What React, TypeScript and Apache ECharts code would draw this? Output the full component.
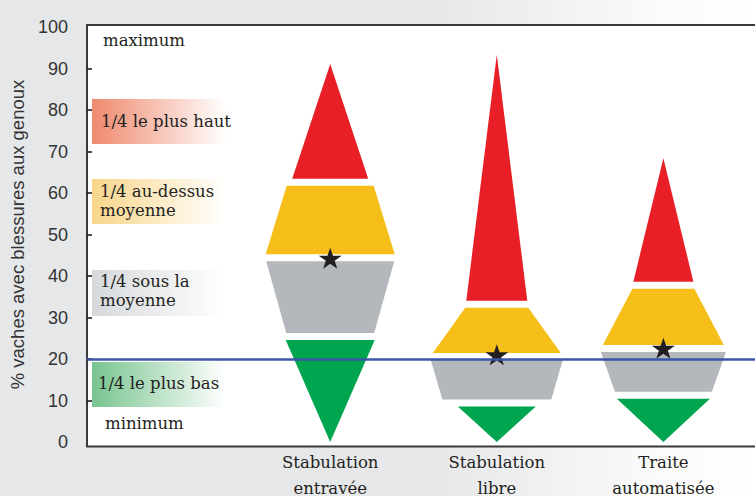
import React, { useEffect, useRef } from "react";
import * as echarts from "echarts";

// ---- data ----
const categories = ["Stabulation\nentravée", "Stabulation\nlibre", "Traite\nautomatisée"];
const minimum = [0, 0, 0];
const quartile1 = [25.4, 9.4, 11.25];
const median = [44.4, 20.6, 22.55];
const quartile3 = [62.6, 33.2, 37.8];
const maximum = [91.1, 93.3, 68.4];
const starValues = [44.3, 21.0, 22.6];
const threshold = 20;
const yTicks = [10, 20, 30, 40, 50, 60, 70, 80, 90];

// ---- styling (px widths of each piece: [top, bottom]) ----
const PIECE_WIDTHS: number[][][] = [
  [[0, 76], [87, 129], [128, 88], [89, 0]],
  [[0, 61], [63, 128], [132, 109], [78, 0]],
  [[0, 60], [62, 121], [125, 97], [93, 0]],
];
const PIECE_COLORS = ["#e91f27", "#f5be18", "#b4b8bc", "#00a54f"];
const GAP = 7;
const X_MIN = -0.46;
const X_MAX = 3.55;
const SERIF = '"DejaVu Serif", serif';
const SANS = '"Liberation Sans", Arial, sans-serif';
const TEXT = "#231f20";
const STAR =
  "path://M50,0 L61.8,35.1 L98.9,35.1 L68.9,56.9 L80.3,91.9 L50,70.2 L19.7,91.9 L31.1,56.9 L1.1,35.1 L38.2,35.1 Z";

function pieceSeries(pieceIdx: number, lows: number[], highs: number[]) {
  return {
    type: "custom",
    z: 2,
    data: categories.map((_, i) => [i + 1, lows[i], highs[i]]),
    encode: { x: 0, y: [1, 2] },
    renderItem: (params: any, api: any) => {
      const x = api.value(0);
      const lo = api.value(1);
      const hi = api.value(2);
      const top = api.coord([x, hi]);
      const bot = api.coord([x, lo]);
      const cx = top[0];
      const [tw, bw] = PIECE_WIDTHS[params.dataIndex][pieceIdx];
      const yt = top[1] + (pieceIdx === 0 ? 0 : GAP / 2);
      const yb = bot[1] - (pieceIdx === 3 ? 0 : GAP / 2);
      return {
        type: "polygon",
        shape: {
          points: [
            [cx - tw / 2, yt],
            [cx + tw / 2, yt],
            [cx + bw / 2, yb],
            [cx - bw / 2, yb],
          ],
        },
        style: { fill: PIECE_COLORS[pieceIdx] },
      };
    },
  };
}

function gradBox(y: number, h: number, color: string) {
  return {
    type: "rect",
    z: 1,
    shape: { x: 92, y, width: 138, height: h },
    style: {
      fill: {
        type: "linear",
        x: 0,
        y: 0,
        x2: 1,
        y2: 0,
        colorStops: [
          { offset: 0, color },
          { offset: 0.97, color: "#ffffff" },
        ],
      },
    },
  };
}

function label(text: string, x: number, y: number) {
  return {
    type: "text",
    z: 2,
    x,
    y,
    style: {
      text,
      fill: TEXT,
      fontFamily: SERIF,
      fontSize: 16.5,
      lineHeight: 19,
      align: "left",
      verticalAlign: "middle",
    },
  };
}

export default function App() {
  const ref = useRef<HTMLDivElement>(null);
  useEffect(() => {
    if (!ref.current) return;
    const chart = echarts.init(ref.current, null, { renderer: "svg" });
    const option: any = {
      animation: false,
      backgroundColor: "transparent",
      grid: { left: 87, right: 0, top: 27, bottom: 54, outerBoundsMode: "none", containLabel: false },
      xAxis: {
        type: "value",
        min: X_MIN,
        max: X_MAX,
        axisLine: { show: false, onZero: false },
        axisTick: { show: false },
        splitLine: { show: false },
        axisLabel: {
          customValues: [1, 2, 3],
          formatter: (v: number) => categories[Math.round(v) - 1] ?? "",
          fontFamily: SERIF,
          fontSize: 16.5,
          lineHeight: 26,
          color: TEXT,
          margin: 7,
        },
      },
      yAxis: {
        type: "value",
        min: 0,
        max: 100,
        interval: 10,
        axisLine: { show: false, onZero: false },
        axisTick: {
          show: true,
          inside: true,
          length: 5,
          customValues: yTicks,
          lineStyle: { color: TEXT, width: 1.6 },
        },
        splitLine: { show: false },
        axisLabel: { fontFamily: SANS, fontSize: 18, color: "#333", margin: 19 },
        name: "% vaches avec blessures aux genoux",
        nameLocation: "middle",
        nameRotate: 90,
        nameGap: 60,
        nameTextStyle: { fontFamily: SANS, fontSize: 18.5, color: "#333" },
      },
      graphic: [
        {
          type: "rect",
          z: -1,
          shape: { x: 87, y: 25, width: 700, height: 421.5 },
          style: { fill: "#ffffff", stroke: "#3a3a3a", lineWidth: 2 },
        },
        gradBox(99, 45, "#ef8a6e"),
        gradBox(179, 45, "#f8d68a"),
        gradBox(270, 46, "#d6d9dc"),
        gradBox(362, 45, "#78c48f"),
        label("maximum", 103, 40),
        label("1/4 le plus haut", 101, 121),
        label("1/4 au-dessus\nmoyenne", 100, 201),
        label("1/4 sous la\nmoyenne", 100, 291),
        label("1/4 le plus bas", 98, 383),
        label("minimum", 105, 423),
      ],
      series: [
        pieceSeries(0, quartile3, maximum),
        pieceSeries(1, median, quartile3),
        pieceSeries(2, quartile1, median),
        pieceSeries(3, minimum, quartile1),
        {
          type: "line",
          z: 3,
          data: [],
          markLine: {
            silent: true,
            symbol: "none",
            label: { show: false },
            lineStyle: { color: "#3a56a6", width: 2.5, type: "solid" },
            data: [{ yAxis: threshold }],
          },
        },
        {
          type: "scatter",
          z: 4,
          symbol: STAR,
          symbolSize: [23, 21],
          itemStyle: { color: TEXT, opacity: 1 },
          data: starValues.map((v, i) => [i + 1, v]),
        },
      ],
    };
    chart.setOption(option);
    return () => chart.dispose();
  }, []);
  return (
    <div
      ref={ref}
      style={{
        position: "fixed",
        left: 0,
        top: 0,
        width: 755,
        height: 496,
        background:
          "linear-gradient(90deg, #e6e7e9 0%, #e6e7e9 57%, #fbfbfb 88%, #ffffff 100%)",
      }}
    />
  );
}
